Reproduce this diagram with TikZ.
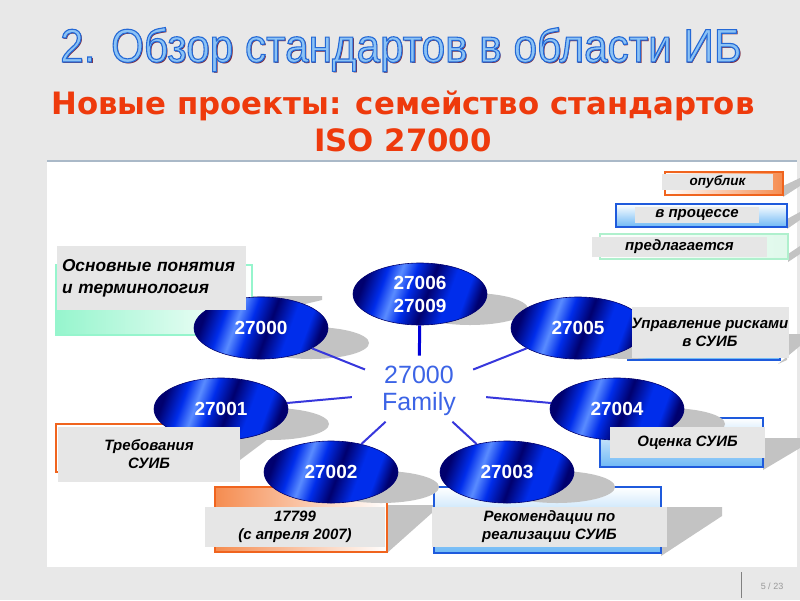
\documentclass[tikz,border=0pt]{standalone}
\usepackage{fontspec}
\setmainfont{Liberation Sans}
\newfontfamily\titlefont[FakeStretch=0.9]{Liberation Sans}
\newfontfamily\subfont{DejaVu Sans}
\usetikzlibrary{shapes.geometric}
\definecolor{bggray}{RGB}{232,232,232}
\definecolor{topline}{RGB}{170,185,200}
\definecolor{labgray}{RGB}{230,230,230}
\definecolor{shgray}{RGB}{195,195,195}
\definecolor{orangeb}{RGB}{240,100,30}
\definecolor{orangef}{RGB}{245,140,80}
\definecolor{blueb}{RGB}{30,90,220}
\definecolor{bluef}{RGB}{110,185,245}
\definecolor{mint}{RGB}{150,245,205}
\definecolor{greenb}{RGB}{175,240,205}
\definecolor{navy}{RGB}{0,0,110}
\definecolor{bblue}{RGB}{0,45,235}
\definecolor{hblue}{RGB}{90,140,255}
\definecolor{linblue}{RGB}{55,55,220}
\definecolor{famblue}{RGB}{60,100,230}
\definecolor{subred}{RGB}{238,58,12}
\definecolor{tfill}{RGB}{140,195,245}
\definecolor{tline}{RGB}{35,105,215}
\definecolor{tshadow}{RGB}{120,30,50}
\newcommand{\outlinetext}[1]{\special{pdf:literal direct 2 Tr 1.1 w 0.14 0.41 0.84 RG}#1\special{pdf:literal direct 0 Tr}}
\pgfdeclarehorizontalshading{metal}{100bp}{color(0bp)=(navy); color(25bp)=(navy); color(33bp)=(bblue); color(39bp)=(hblue); color(45bp)=(bblue); color(53bp)=(navy); color(62bp)=(bblue); color(69bp)=(bblue); color(75bp)=(navy); color(100bp)=(navy)}
\tikzset{
  ell/.style={ellipse, minimum width=134, minimum height=62, inner sep=0, shading=metal, shading angle=-20, draw=navy, line width=0.6, text=white, font=\bfseries\fontsize{19}{23}\selectfont, align=center},
  lab/.style={fill=labgray, inner sep=0, font=\bfseries\itshape\fontsize{15}{18}\selectfont, align=center},
  legtxt/.style={fill=labgray, inner sep=0, font=\bfseries\itshape\fontsize{15}{17}\selectfont, align=center},
  conn/.style={linblue, line width=2},
  ttl/.style={anchor=base, font=\titlefont\fontsize{47}{50}\selectfont, inner sep=0},
  boxo/.style={draw=orangeb, line width=1.4},
  boxb/.style={draw=blueb, line width=1.4},
}
\begin{document}
\begin{tikzpicture}[x=1pt,y=-1pt]
\useasboundingbox (0,0) rectangle (800,600);
\fill[bggray] (0,0) rectangle (800,600);
\fill[white] (47,161) rectangle (797,567);
\draw[topline, line width=1.5] (47,161) -- (797,161);
% title
\node[ttl, text=tshadow] (tsh) at (402.3,63.3) {2. Обзор стандартов в области ИБ};
\node[ttl, text=tfill] (title) at (401,62) {\outlinetext{2. Обзор стандартов в области ИБ}};
% subtitle
\node[anchor=base, inner sep=0, text=subred, font=\subfont\bfseries\fontsize{30.8}{36}\selectfont] (sub1) at (403,114) {Новые проекты: семейство стандартов};
\node[anchor=base, inner sep=0, text=subred, font=\subfont\bfseries\fontsize{30.8}{36}\selectfont] (sub2) at (403,151) {ISO 27000};
% legend boxes
\fill[shgray] (783,197) -- (800,186) -- (800,178) -- (783,186) -- cycle;
\fill[shgray] (787,229) -- (800,220) -- (800,212) -- (787,219) -- cycle;
\fill[shgray] (788,262) -- (800,254) -- (800,246) -- (788,254) -- cycle;
\path[boxo, left color=white, right color=orangef] (665,172) rectangle (783,195);
\path[boxb, top color=white, bottom color=bluef] (616,204) rectangle (787,227);
\path[draw=greenb, line width=1.4, left color=white, right color=greenb!40] (600,234) rectangle (788,259);
\node[legtxt, minimum width=111, minimum height=16, font=\bfseries\itshape\fontsize{13.5}{15}\selectfont] (leg1) at (717.5,182) {опублик};
\node[legtxt, minimum width=124, minimum height=16] (leg2) at (697,215) {в процессе};
\node[legtxt, minimum width=175, minimum height=20] (leg3) at (679.5,247) {предлагается};
% colored boxes
\fill[shgray] (246,318) -- (322,300) -- (322,296) -- (246,296) -- cycle;
\fill[shgray] (240,460) -- (272,436) -- (272,430) -- (240,430) -- cycle;
\fill[shgray] (387,553) -- (433,512) -- (433,505) -- (387,505) -- cycle;
\fill[shgray] (661,556) -- (722,516) -- (722,507) -- (667,507) -- cycle;
\fill[shgray] (763,470) -- (800,448) -- (800,438) -- (765,438) -- cycle;
\fill[shgray] (778,364) -- (800,346) -- (800,334) -- (787,334) -- (787,360) -- cycle;
\path[draw=mint, line width=1.4, left color=mint, right color=white] (56,265) rectangle (252,335);
\path[boxo, fill=white] (56,424) rectangle (238,472);
\path[boxo, left color=orangef, right color=white] (215,487) rectangle (387,552);
\path[boxb, top color=white, bottom color=bluef] (434,487) rectangle (661,553);
\path[boxb, top color=white, bottom color=bluef] (600,418) rectangle (763,467);
\path[boxb, top color=white, bottom color=bluef] (628,310) rectangle (780,360);
% ellipse shadows
\foreach \cx/\cy in {420/294,261/328,578/328,221/409,617/409,331/472,507/472}
  \fill[shgray] (\cx+50,\cy+15) ellipse [x radius=58, y radius=16];
% center
\node[ellipse, minimum width=136, minimum height=66, inner sep=0, text=famblue, font=\fontsize{25}{27}\selectfont, align=center] (fam) at (419,391) {27000\\Family};
% ellipses
\node[ell] (e6) at (420,294) {27006\\27009};
\node[ell] (e0) at (261,328) {27000};
\node[ell] (e5) at (578,328) {27005};
\node[ell] (e1) at (221,409) {27001};
\node[ell] (e4) at (617,409) {27004};
\node[ell] (e2) at (331,472) {27002};
\node[ell] (e3) at (507,472) {27003};
% connectors
\draw[conn, line width=3, color=blue!85!black] (fam) -- (e6);
\draw[conn] (fam) -- (e0);
\draw[conn] (fam) -- (e5);
\draw[conn] (fam) -- (e1);
\draw[conn] (fam) -- (e4);
\draw[conn] (fam) -- (e2);
\draw[conn] (fam) -- (e3);
% labels
\node[lab, minimum width=189, minimum height=64, text width=179, align=left, font=\bfseries\itshape\fontsize{17.3}{22}\selectfont] (lA) at (151.5,278) {Основные понятия\\и терминология};
\node[lab, minimum width=182, minimum height=55] (lB) at (149,454.5) {Требования\\СУИБ};
\node[lab, minimum width=180, minimum height=40] (lC) at (295,527) {17799\\(с апреля 2007)};
\node[lab, minimum width=235, minimum height=40] (lD) at (549.5,527) {Рекомендации по\\реализации СУИБ};
\node[lab, minimum width=155, minimum height=31] (lE) at (687.5,442.5) {Оценка СУИБ};
\node[lab, minimum width=157, minimum height=51] (lF) at (710,332.5) {Управление рисками\\в СУИБ};
% footer
\draw[gray, line width=0.8] (741,572) -- (741,598);
\node[text=gray!80, font=\fontsize{9}{10}\selectfont, inner sep=0] (pg) at (772,586) {5 / 23};
\end{tikzpicture}
\end{document}
